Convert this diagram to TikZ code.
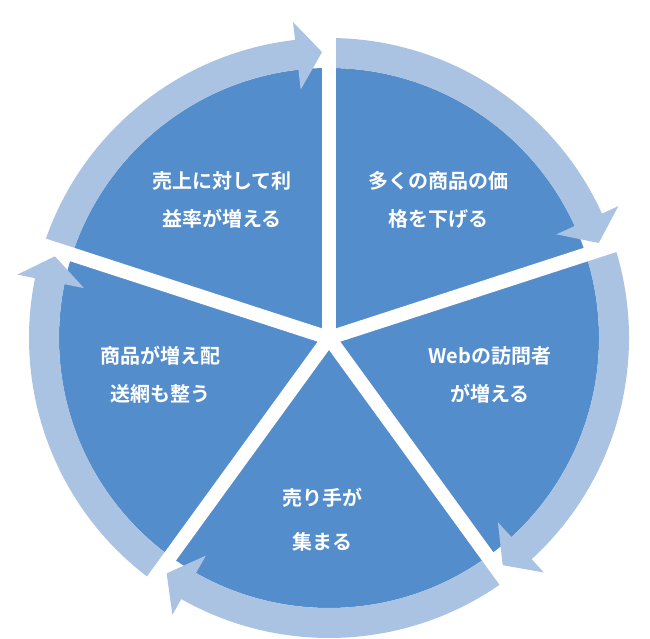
\documentclass[tikz,border=0pt]{standalone}
\usepackage{fontspec}
\newfontfamily\cjk{Noto Sans CJK JP Bold}
\definecolor{pie}{RGB}{84,141,203}
\definecolor{ring}{RGB}{171,195,226}
\begin{document}
\begin{tikzpicture}[x=1pt,y=1pt,
  lbl/.style={text=white,font=\cjk\fontsize{20}{38}\selectfont,align=center},
  gapline/.style={white,line width=14pt}]
\useasboundingbox (0,0) rectangle (650,639);
\begin{scope}[shift={(329,301)}]
\fill[pie] (0,0) circle (270);
\foreach \g in {90,18,-54,-126,-198}{
  \pgfmathsetmacro\n{\g-72}
  \pgfmathsetmacro\b{\n+6.5}
  \pgfmathsetmacro\t{\n+1.4}
  \fill[ring] (\g:270) arc[start angle=\g,end angle=\b,radius=270]
    -- (\b:250) -- (\t:286) -- (\b:318) -- (\b:300)
    arc[start angle=\b,end angle=\g,radius=300] -- cycle;
}
\foreach \g in {90,18,-54,-126,-198}{
  \coordinate (o\g) at (\g:325);
  \draw[gapline] (0,0) -- (o\g);
}
\end{scope}
\node[lbl] (a) at (222,439) {売上に対して利\\益率が増える};
\node[lbl] (b) at (438,439) {多くの商品の価\\格を下げる};
\node[lbl] (c) at (490,264) {Webの訪問者\\が増える};
\node[lbl,font=\cjk\fontsize{20}{44}\selectfont] (d) at (322,119) {売り手が\\集まる};
\node[lbl] (e) at (160,264) {商品が増え配\\送網も整う};
\end{tikzpicture}
\end{document}
